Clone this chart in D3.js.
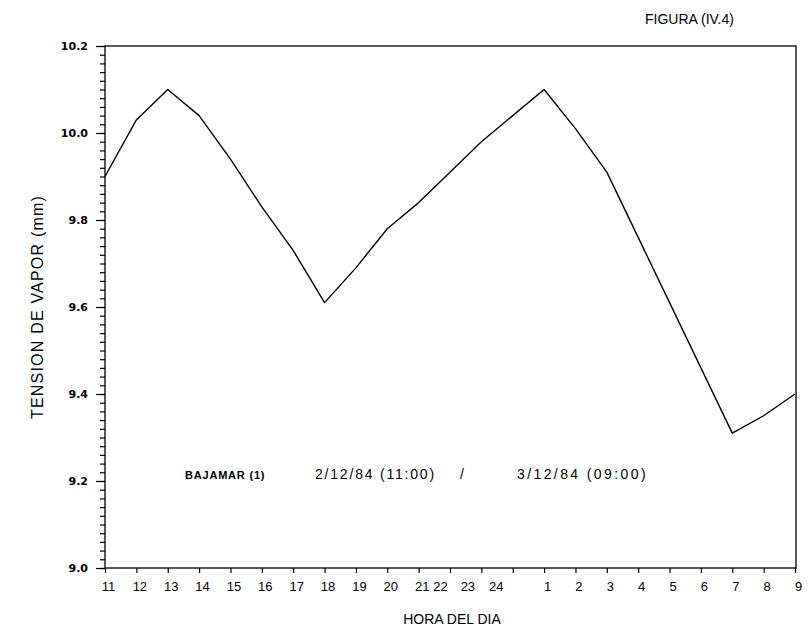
<!DOCTYPE html>
<html>
<head>
<meta charset="utf-8">
<script src="https://cdn.jsdelivr.net/npm/d3@7"></script>
<style>
  body { margin: 0; background: #fff; }
  svg { display: block; }
</style>
</head>
<body>
<div id="chart"></div>
<script>
// Hours along the bottom (11h on 2/12/84 through 9h on 3/12/84)
const hours = ["11", "12", "13", "14", "15", "16", "17", "18", "19", "20", "21", "22",
    "23", "24", "1", "2", "3", "4", "5", "6", "7", "8", "9"];

// Vapour pressure (mm)
const vapor = [9.90, 10.03, 10.10, 10.04, 9.94, 9.83, 9.73, 9.61, 9.69, 9.78, 9.84, 9.91,
    9.98, 10.04, 10.10, 10.01, 9.91, 9.76, 9.61, 9.46, 9.31, 9.35, 9.40];

const yTicks = [9.0, 9.2, 9.4, 9.6, 9.8, 10.0, 10.2];

var width = 811,
    height = 637,
    plotLeft = 105,
    plotRight = 796,
    plotTop = 46,
    plotBottom = 568;

var svg = d3.select("#chart")
    .append("svg")
    .attr("width", width)
    .attr("height", height);

var x = d3.scalePoint()
    .domain(hours)
    .range([plotLeft, 795]);

var y = d3.scaleLinear()
    .domain([9.0, 10.2])
    .range([plotBottom, plotTop]);

// frame
svg.append("rect")
    .attr("x", plotLeft)
    .attr("y", plotTop)
    .attr("width", plotRight - plotLeft)
    .attr("height", plotBottom - plotTop)
    .attr("fill", "none")
    .attr("stroke", "#000")
    .attr("stroke-width", 1.3);

// minor y ticks every 0.02
var minor = d3.range(0, 61).map(function(i) { return 9.0 + i * 0.02; });
svg.append("g")
    .attr("transform", "translate(" + plotLeft + ",0)")
    .call(d3.axisLeft(y).tickValues(minor).tickSize(5).tickFormat(""))
    .call(function(g) { g.select(".domain").remove(); });

// major y ticks
svg.append("g")
    .attr("transform", "translate(" + plotLeft + ",0)")
    .call(d3.axisLeft(y).tickValues(yTicks).tickSize(9).tickPadding(8)
        .tickFormat(d3.format(".1f")))
    .call(function(g) {
        g.select(".domain").remove();
        g.selectAll("text")
            .style("font", "bold 11px 'DejaVu Sans'")
            .attr("fill", "#000");
    });

// x axis; the labels 22-24 sit a little to the left in the original
var nudge = { "22": -10, "23": -14, "24": -17 };
svg.append("g")
    .attr("transform", "translate(0," + plotBottom + ")")
    .call(d3.axisBottom(x).tickSize(5).tickPadding(9))
    .call(function(g) {
        g.select(".domain").remove();
        g.selectAll("text")
            .style("font", "13px 'Liberation Sans'")
            .attr("fill", "#000")
            .attr("dx", function(d) { return (nudge[d] || 3) + "px"; });
    });

svg.selectAll(".tick line").attr("stroke-width", 1.2);

// the data line
var line = d3.line()
    .x(function(d, i) { return x(hours[i]); })
    .y(function(d) { return y(d); });

svg.append("path")
    .datum(vapor)
    .attr("d", line)
    .attr("fill", "none")
    .attr("stroke", "#000")
    .attr("stroke-width", 1.4)
    .attr("stroke-linejoin", "round");

// axis titles
svg.append("text")
    .attr("x", 452)
    .attr("y", 624)
    .attr("text-anchor", "middle")
    .style("font", "14px 'Liberation Sans'")
    .text("HORA DEL DIA");

svg.append("text")
    .attr("transform", "translate(43,307) rotate(-90)")
    .attr("text-anchor", "middle")
    .style("font", "16px 'Liberation Sans'")
    .style("letter-spacing", "1.2px")
    .text("TENSION DE VAPOR (mm)");

svg.append("text")
    .attr("x", 645)
    .attr("y", 24)
    .style("font", "14px 'Liberation Sans'")
    .text("FIGURA (IV.4)");

// annotation inside the plot
var note = svg.append("g")
    .style("font", "14px 'Liberation Sans'")
    .style("letter-spacing", "2.4px");
note.append("text").attr("x", 185).attr("y", 479)
    .style("font-weight", "bold").style("font-size", "11px")
    .style("letter-spacing", "0.8px")
    .text("BAJAMAR (1)");
note.append("text").attr("x", 315).attr("y", 479)
    .style("letter-spacing", "1.8px")
    .text("2/12/84 (11:00)");
note.append("text").attr("x", 460).attr("y", 479).text("/");
note.append("text").attr("x", 517).attr("y", 479).text("3/12/84 (09:00)");
</script>
</body>
</html>
